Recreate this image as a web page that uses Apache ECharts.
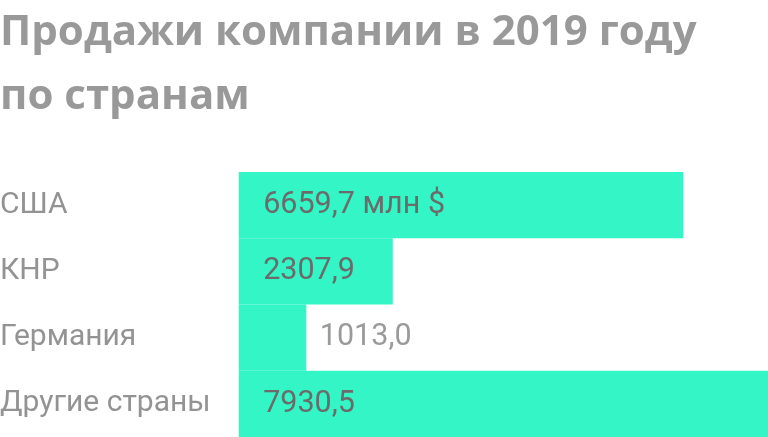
<!DOCTYPE html>
<html><head><meta charset="utf-8">
<script src="https://cdn.jsdelivr.net/npm/echarts@6/dist/echarts.min.js"></script>
<style>html,body{margin:0;padding:0;background:#fff}#c{width:768px;height:437px}</style>
</head><body><div id="c"></div>
<script>
const categories = ['США', 'КНР', 'Германия', 'Другие страны'];
const values = [6659.7, 2307.9, 1013.0, 7930.5];
const valueLabels = ['6659,7 млн $', '2307,9', '1013,0', '7930,5'];

const chart = echarts.init(document.getElementById('c'), null, {renderer: 'canvas'});
const data = values.map((v, i) => {
  const outside = i === 2;
  return {
    value: v,
    label: outside
      ? {position: 'right', distance: 13.5, color: '#9a9a9a'}
      : {position: 'insideLeft', distance: 24.5, color: '#6b6b6b'}
  };
});
chart.setOption({
  animation: false,
  title: {
    text: 'Продажи компании в 2019 году\nпо странам',
    left: 0, top: 1, padding: 0,
    textStyle: {fontFamily: 'Open Sans', fontWeight: 'bold', fontSize: 42, lineHeight: 64, color: '#999999'}
  },
  grid: {left: 238.7, right: 0, top: 172, bottom: 0, containLabel: false, outerBoundsMode: 'none'},
  xAxis: {type: 'value', min: 0, max: 7930.5, show: false},
  yAxis: {
    type: 'category', data: categories, inverse: true,
    axisLine: {show: false}, axisTick: {show: false}, splitLine: {show: false},
    axisLabel: {align: 'left', margin: 238.7, fontFamily: 'Roboto', fontSize: 30, color: '#939393'}
  },
  series: [{
    type: 'bar', data: data, barCategoryGap: 0,
    itemStyle: {color: '#33F5C6'},
    label: {show: true, fontFamily: 'Roboto', fontSize: 30.5,
      formatter: p => valueLabels[p.dataIndex]}
  }]
});
</script></body></html>
